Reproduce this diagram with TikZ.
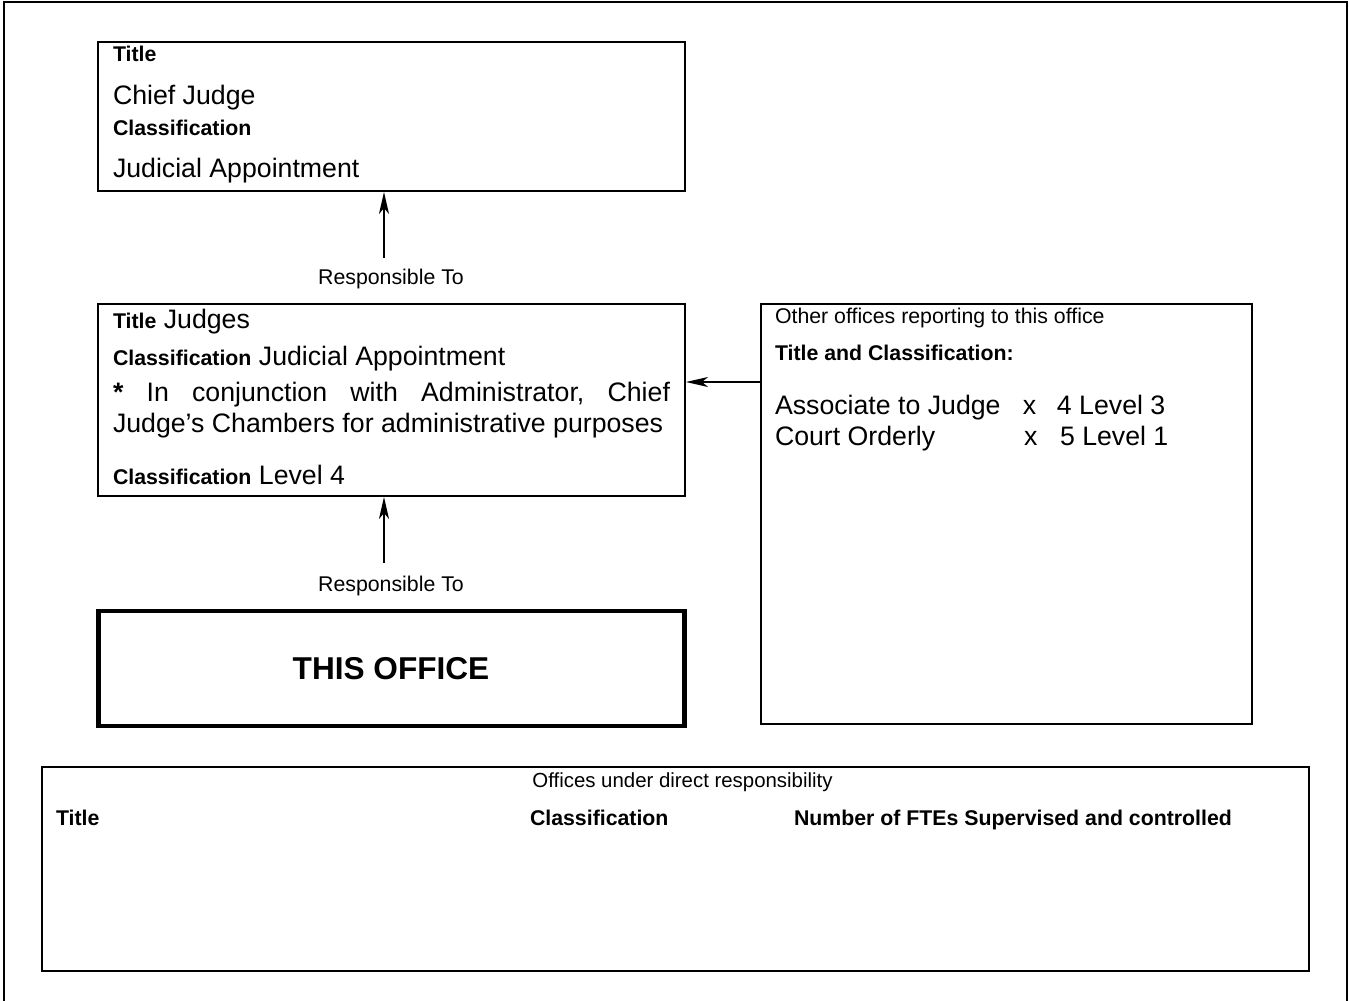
\documentclass[tikz,border=0pt]{standalone}
\usepackage{fontspec}
\setmainfont{Liberation Sans}
\usetikzlibrary{arrows.meta}
\newcommand\txS{\fontsize{21.3}{25}\selectfont}
\newcommand\txB{\fontsize{26.7}{31.2}\selectfont}
\newcommand\txH{\fontsize{31.6}{37}\selectfont}
\begin{document}
\begin{tikzpicture}[x=1pt,y=-1pt,
  box/.style={draw, line width=2pt, inner sep=0pt},
  officebox/.style={draw, line width=4.5pt, inner sep=0pt},
  lbl/.style={anchor=base west, inner sep=0pt, outer sep=0pt},
  clbl/.style={anchor=base, inner sep=0pt, outer sep=0pt},
  arr/.style={line width=1.8pt, -{Stealth[length=22pt,width=10pt,inset=6pt]}}]
\useasboundingbox (0,0) rectangle (1349,1001);
% page frame (open at the bottom)
\draw[line width=2pt] (3.5,1001) -- (3.5,1.5) -- (1346.5,1.5) -- (1346.5,1001);

% boxes
\node[box, minimum width=587pt, minimum height=149pt] (chief) at (391.5,116.5) {};
\node[box, minimum width=587pt, minimum height=192.5pt] (judges) at (391.5,399.75) {};
\node[officebox, minimum width=586pt, minimum height=115pt] (office) at (391.5,668.5) {};
\node[box, minimum width=491.5pt, minimum height=420.5pt] (other) at (1006.25,513.75) {};
\node[box, minimum width=1267.5pt, minimum height=203.5pt] (under) at (675.25,868.75) {};

% Chief Judge box texts
\node[lbl] (c1) at (113,61) {\txS\bfseries Title};
\node[lbl] (c2) at (113,104) {\txB Chief Judge};
\node[lbl] (c3) at (113,135) {\txS\bfseries Classification};
\node[lbl] (c4) at (113,177) {\txB Judicial Appointment};

% Judges box texts
\node[lbl] (j1) at (113,328) {{\txS\bfseries Title}\txB\ Judges};
\node[lbl] (j2) at (113,365) {{\txS\bfseries Classification}\txB\ Judicial Appointment};
\node[lbl] (j3) at (113,401) {\txB\hbox to 557pt{\textbf{*}\hfil In\hfil conjunction\hfil with\hfil Administrator,\hfil Chief}};
\node[lbl] (j4) at (113,432) {\txB Judge’s Chambers for administrative purposes};
\node[lbl] (j5) at (113,484) {{\txS\bfseries Classification}\txB\ Level 4};

% This office
\node[clbl] (o1) at (391,679) {\txH\bfseries THIS OFFICE};

% Other offices box texts
\node[lbl] (r1) at (775,323) {\txS Other offices reporting to this office};
\node[lbl] (r2) at (775,360) {\txS\bfseries Title and Classification:};
\node[lbl] (r3) at (775,414) {\txB\makebox[248pt][l]{Associate to Judge}\makebox[34pt][l]{x}4 Level 3};
\node[lbl] (r4) at (775,445) {\txB\makebox[249pt][l]{Court Orderly}\makebox[36pt][l]{x}5 Level 1};

% Offices under direct responsibility
\node[clbl] (u1) at (682.5,787) {\fontsize{20.4}{25}\selectfont Offices under direct responsibility};
\node[lbl] (u2) at (56,825) {\txS\bfseries Title};
\node[lbl] (u3) at (530,825) {\txS\bfseries Classification};
\node[lbl] (u4) at (794,825) {\txS\bfseries Number of FTEs Supervised and controlled};

% Responsible To labels and arrows
\node[clbl] (rt1) at (391,284) {\txS Responsible To};
\node[clbl] (rt2) at (391,591) {\txS Responsible To};
\coordinate (a1) at (384,258);
\coordinate (a2) at (384,563);
\coordinate (a3) at (760,382);
\draw[arr] (a1) -- (a1 |- chief.south);
\draw[arr] (a2) -- (a2 |- judges.south);
\draw[arr] (a3) -- (a3 -| judges.east);
\end{tikzpicture}
\end{document}
